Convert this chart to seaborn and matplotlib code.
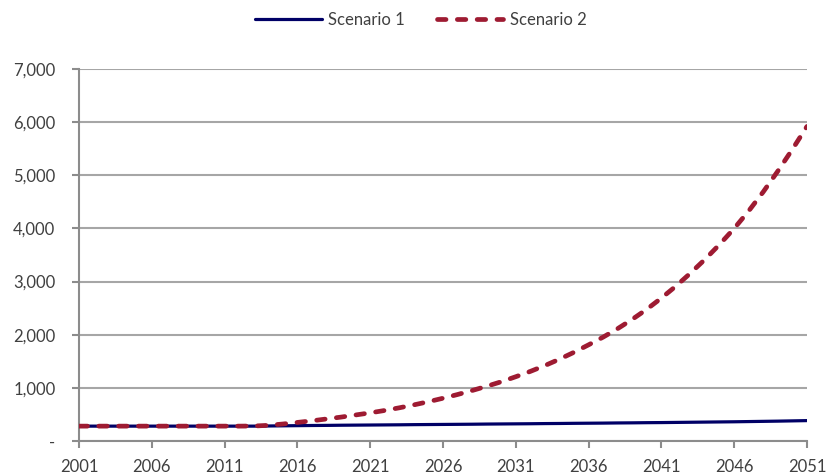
import matplotlib
matplotlib.use("Agg")
import matplotlib.pyplot as plt
import matplotlib.ticker as mticker
from matplotlib.lines import Line2D
import seaborn as sns
import pandas as pd

years = list(range(2001, 2052))

scenario_1 = [
    280, 280, 280, 280, 280, 280, 280, 280, 280, 280,   # 2001-2010
    280, 280, 280, 283, 286, 289, 292, 294, 297, 299,   # 2011-2020
    301, 303, 305, 308, 310, 312, 314, 316, 319, 321,   # 2021-2030
    323, 325, 328, 330, 333, 335, 337, 340, 342, 345,   # 2031-2040
    347, 350, 353, 356, 359, 362, 366, 370, 374, 379,   # 2041-2050
    384,                                                # 2051
]

scenario_2 = [
    280, 280, 280, 280, 280, 280, 280, 280, 280, 280,   # 2001-2010
    280, 280, 282, 295, 320, 350, 380, 415, 450, 490,   # 2011-2020
    530, 575, 625, 680, 740, 805, 875, 950, 1030, 1115,  # 2021-2030
    1210, 1310, 1420, 1540, 1670, 1810, 1955, 2115, 2290, 2480,  # 2031-2040
    2690, 2915, 3160, 3420, 3700, 4000, 4330, 4690, 5080, 5490,  # 2041-2050
    5920,                                               # 2051
]

series_names = ["Scenario 1", "Scenario 2"]
x_ticks = list(range(2001, 2052, 5))
y_ticks = [0, 1000, 2000, 3000, 4000, 5000, 6000, 7000]

df = pd.DataFrame({
    "Year": years * 2,
    "Value": scenario_1 + scenario_2,
    "Series": [series_names[0]] * len(years) + [series_names[1]] * len(years),
})

sns.set_theme(style="white")
plt.rcParams["font.family"] = ["Lato", "DejaVu Sans"]

text_color = "#404040"
grid_color = "#a6a6a6"
axis_color = "#8c8c8c"
font_size = 12

fig = plt.figure(figsize=(8.27, 4.76), dpi=100)
ax = fig.add_axes([0.0955, 0.0735, 0.8803, 0.7815])

palette = {"Scenario 1": "#000066", "Scenario 2": "#9e1b32"}
sns.lineplot(data=df, x="Year", y="Value", hue="Series", palette=palette,
             ax=ax, legend=False)

s1_width, s2_width = 2.3, 3.4
s2_dashes = [1.8, 2.4]

lines = ax.get_lines()
lines[0].set_linewidth(s1_width)
lines[0].set_zorder(3)
lines[1].set_linewidth(s2_width)
lines[1].set_dashes(s2_dashes)
lines[1].set_dash_capstyle("round")
lines[1].set_zorder(4)

ax.set_xlim(2001, 2051)
ax.set_ylim(0, 7000)
ax.set_xticks(x_ticks)
ax.set_yticks(y_ticks)
ax.yaxis.set_major_formatter(
    mticker.FuncFormatter(lambda v, p: "-" if v == 0 else f"{int(v):,}"))
ax.xaxis.set_major_formatter(mticker.FuncFormatter(lambda v, p: f"{int(v)}"))

ax.grid(axis="y", color=grid_color, linewidth=1.5)
ax.grid(axis="x", visible=False)
ax.set_axisbelow(True)

for side in ["top", "right"]:
    ax.spines[side].set_visible(False)
for side in ["left", "bottom"]:
    ax.spines[side].set_color(axis_color)
    ax.spines[side].set_linewidth(1.5)

ax.tick_params(axis="y", direction="out", length=5, width=1.5, color=axis_color,
               pad=12, labelsize=font_size, labelcolor=text_color, left=True)
ax.tick_params(axis="x", direction="out", length=5, width=1.5, color=axis_color,
               pad=8, labelsize=font_size, labelcolor=text_color, bottom=True)
ax.set_xlabel("")
ax.set_ylabel("")

handles = [
    Line2D([], [], color=palette["Scenario 1"], linewidth=s1_width),
    Line2D([], [], color=palette["Scenario 2"], linewidth=s2_width,
           dashes=s2_dashes, dash_capstyle="round"),
]
fig.legend(handles, series_names, loc="center", bbox_to_anchor=(0.509, 0.958),
           ncol=2, frameon=False, fontsize=font_size, handlelength=4.0,
           handletextpad=0.4, columnspacing=1.9, labelcolor=text_color)

fig.savefig("out.png", dpi=100)
